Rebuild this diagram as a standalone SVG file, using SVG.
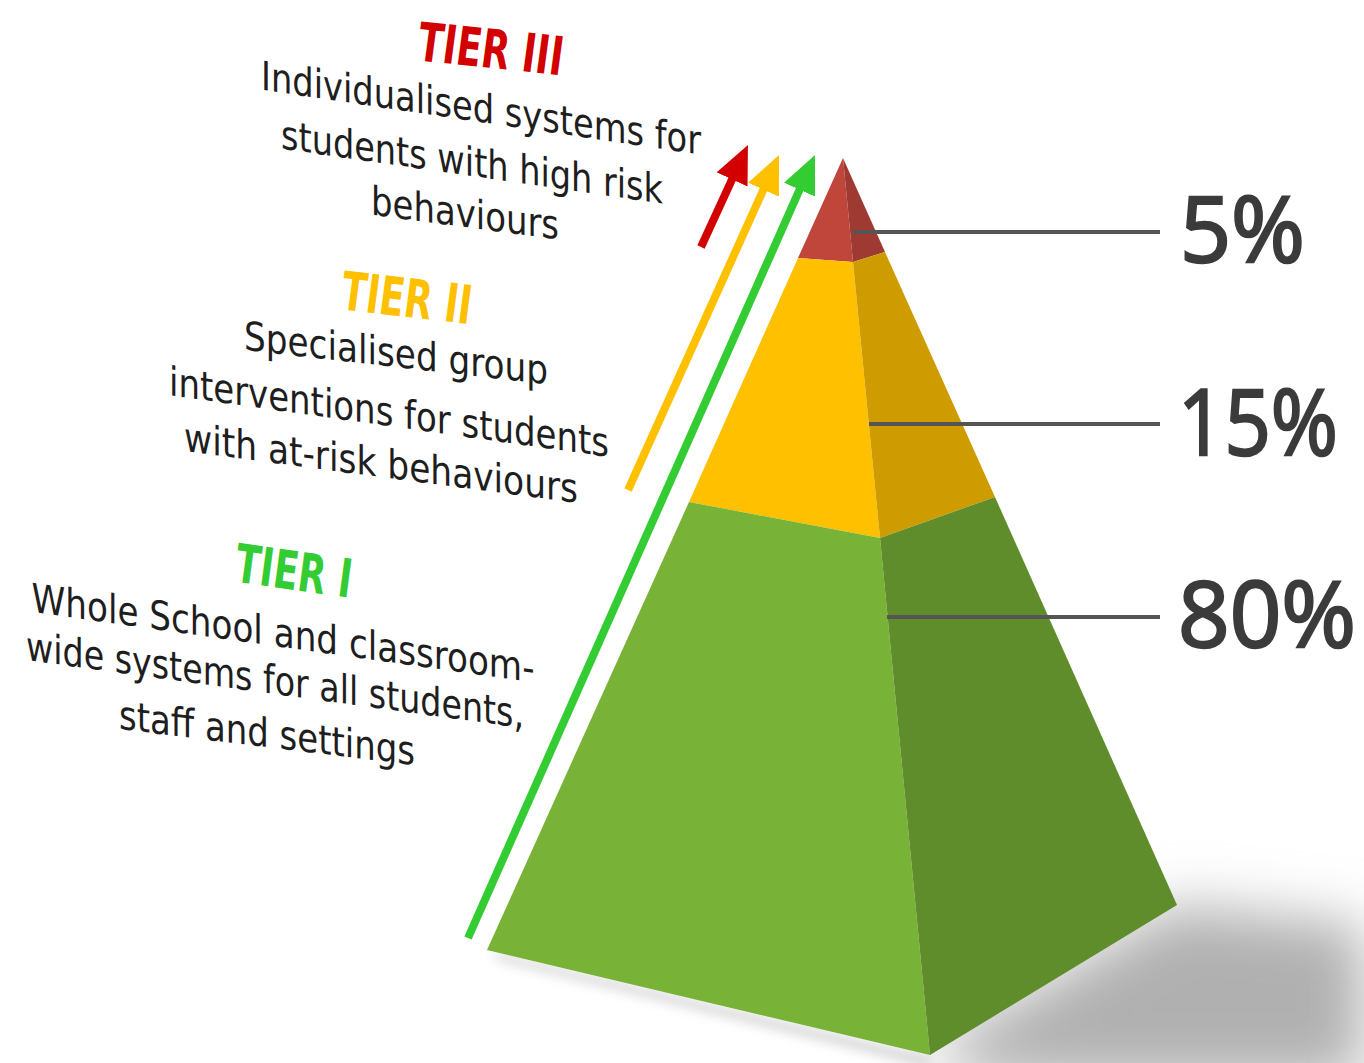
<svg xmlns="http://www.w3.org/2000/svg" width="1364" height="1063" viewBox="0 0 1364 1063">
<defs>
<filter id="blur" x="-50%" y="-50%" width="200%" height="200%"><feGaussianBlur stdDeviation="28"/></filter>
<filter id="blur2" x="-20%" y="-50%" width="140%" height="200%"><feGaussianBlur stdDeviation="6"/></filter>
<marker id="hr" viewBox="0 0 38 34" refX="8" refY="17" markerWidth="38" markerHeight="34" markerUnits="userSpaceOnUse" orient="auto"><path d="M0,0 L38,17 L0,34 z" fill="#d20000"/></marker>
<marker id="hy" viewBox="0 0 38 34" refX="8" refY="17" markerWidth="38" markerHeight="34" markerUnits="userSpaceOnUse" orient="auto"><path d="M0,0 L38,17 L0,34 z" fill="#ffc000"/></marker>
<marker id="hg" viewBox="0 0 38 34" refX="8" refY="17" markerWidth="38" markerHeight="34" markerUnits="userSpaceOnUse" orient="auto"><path d="M0,0 L38,17 L0,34 z" fill="#33cc33"/></marker>
<style>
.body{font-family:"DejaVu Sans Condensed","DejaVu Sans","Liberation Sans",sans-serif;font-size:40px;fill:#1e1e1e;text-anchor:middle}
.tier{font-family:"DejaVu Sans Condensed","DejaVu Sans","Liberation Sans",sans-serif;font-size:54px;font-weight:bold;font-style:oblique;text-anchor:middle}
.pct{font-family:"Open Sans","DejaVu Sans",sans-serif;font-size:92px;font-weight:normal;fill:#3b3b3b;stroke:#3b3b3b;stroke-width:2.5}
.lead{stroke:#555;stroke-width:4;fill:none}
.arrow{fill:none;stroke-width:8}
</style>
</defs>
<rect width="1364" height="1063" fill="#fff"/>

<g id="shadow">
<polygon points="925,1052 1177,905 1364,925 1364,1080 990,1080" fill="#b0b0b0" filter="url(#blur)"/>
<polygon points="490,952 930,1058 930,1066 500,960" fill="#c8c8c8" filter="url(#blur2)"/>
</g>

<g id="pyramid">
<g id="tier3-block">
<polygon points="843,158 798,258 853,262" fill="#c0453a"/>
<polygon points="843,158 853,262 885,252" fill="#9f3a32"/>
</g>
<g id="tier2-block">
<polygon points="798,258 689,502 880,538 853,262" fill="#ffc000"/>
<polygon points="853,262 880,538 995,497 885,252" fill="#cf9c00"/>
</g>
<g id="tier1-block">
<polygon points="689,502 487,950 930,1055 880,538" fill="#78b236"/>
<polygon points="880,538 930,1055 1177,905 995,497" fill="#5f8d2c"/>
</g>
</g>

<g id="connectors">
<line class="arrow" stroke="#33cc33" x1="468" y1="938" x2="802.8" y2="182.4" marker-end="url(#hg)"/>
<line class="arrow" stroke="#ffc000" x1="628" y1="490" x2="766.7" y2="182.4" marker-end="url(#hy)"/>
<line class="arrow" stroke="#d20000" x1="701" y1="247" x2="735.4" y2="172.2" marker-end="url(#hr)"/>
<line class="lead" x1="853" y1="232" x2="1160" y2="232"/>
<line class="lead" x1="869" y1="424" x2="1160" y2="424"/>
<line class="lead" x1="887" y1="617" x2="1160" y2="617"/>
</g>

<g id="label-5">
<text class="pct" x="1180" y="262" textLength="125" lengthAdjust="spacingAndGlyphs">5%</text>
</g>
<g id="label-15">
<text class="pct" x="1178" y="455" textLength="160" lengthAdjust="spacingAndGlyphs">15%</text>
</g>
<g id="label-80">
<text class="pct" x="1178" y="647" textLength="178" lengthAdjust="spacingAndGlyphs">80%</text>
</g>

<g id="tier3-text">
<text class="tier" fill="#d20000" transform="translate(491,68) skewY(6)" textLength="145" lengthAdjust="spacingAndGlyphs">TIER III</text>
<text class="body" transform="translate(481,122) skewY(8.4)" textLength="440" lengthAdjust="spacingAndGlyphs">Individualised systems for</text>
<text class="body" transform="translate(472,176) skewY(8.2)" textLength="382" lengthAdjust="spacingAndGlyphs">students with high risk</text>
<text class="body" transform="translate(465,227) skewY(7.5)" textLength="188" lengthAdjust="spacingAndGlyphs">behaviours</text>
</g>

<g id="tier2-text">
<text class="tier" fill="#ffc000" transform="translate(407,317) skewY(6.5)" textLength="130" lengthAdjust="spacingAndGlyphs">TIER II</text>
<text class="body" transform="translate(396,367) skewY(6.5)" textLength="304" lengthAdjust="spacingAndGlyphs">Specialised group</text>
<text class="body" transform="translate(389,426) skewY(8)" textLength="440" lengthAdjust="spacingAndGlyphs">interventions for students</text>
<text class="body" transform="translate(381,477) skewY(7.5)" textLength="394" lengthAdjust="spacingAndGlyphs">with at-risk behaviours</text>
</g>

<g id="tier1-text">
<text class="tier" fill="#33cc33" transform="translate(294,590) skewY(8)" textLength="116" lengthAdjust="spacingAndGlyphs">TIER I</text>
<text class="body" transform="translate(283,647) skewY(8)" textLength="503" lengthAdjust="spacingAndGlyphs">Whole School and classroom-</text>
<text class="body" transform="translate(275,694) skewY(7.8)" textLength="498" lengthAdjust="spacingAndGlyphs">wide systems for all students,</text>
<text class="body" transform="translate(267,747) skewY(7)" textLength="296" lengthAdjust="spacingAndGlyphs">staff and settings</text>
</g>
</svg>
